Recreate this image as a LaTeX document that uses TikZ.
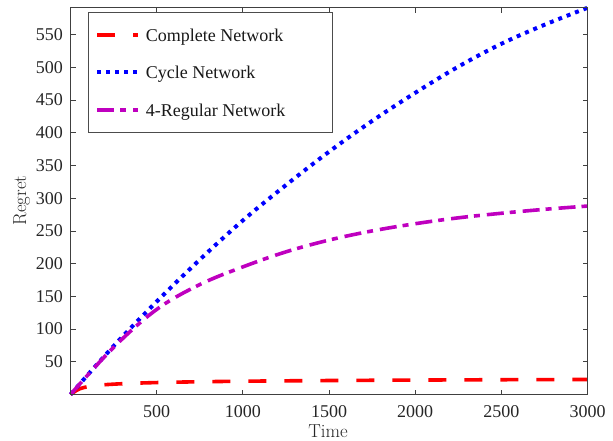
\documentclass[tikz,border=0pt]{standalone}
\usepackage{fontspec}
\newfontfamily\numfont{Liberation Serif}
\usetikzlibrary{positioning,calc}

\definecolor{regmag}{RGB}{191,0,191}

\begin{document}
\begin{tikzpicture}[
    x=1pt, y=1pt,
    axisline/.style={
        draw=black!75,
        line width=0.9pt
    },
    tickmark/.style={
        black!75,
        line width=0.8pt
    },
    ticklabel/.style={
        font=\numfont\fontsize{18}{20}\selectfont,
        text=black!85,
        inner sep=0pt
    },
    axislabel/.style={
        font=\fontsize{18.8}{22}\selectfont,
        text=black!85,
        inner sep=0pt
    },
    legtext/.style={
        font=\numfont\fontsize{18}{20}\selectfont,
        text=black!90,
        inner sep=0pt,
        anchor=base west
    },
    complete/.style={
        red,
        line width=3.6pt,
        dash pattern=on 18pt off 18pt
    },
    cyclenet/.style={
        blue,
        line width=4pt,
        dash pattern=on 4pt off 5pt
    },
    regular/.style={
        regmag,
        line width=3.6pt,
        dash pattern=on 17pt off 6pt on 6pt off 7pt
    }
]

\useasboundingbox (0,0) rectangle (613,440);

% Data area (Time 0..3000, Regret 0..591)
\begin{scope}[shift={(70.5pt,45.5pt)}, x=0.17233pt, y=0.6543pt]

% Curves
\draw[complete] plot[smooth, tension=0.6] coordinates {
    (0,0) (40,7) (80,10.8) (150,13.8) (250,15.8) (400,17.5) (600,18.8)
    (900,20) (1300,21) (1800,21.8) (2400,22.5) (3000,23)};
\draw[cyclenet] plot[smooth, tension=0.6] coordinates {
    (0,0) (250,74) (500,142) (750,206) (1000,266) (1250,320) (1500,371)
    (1750,418) (2000,461) (2250,501) (2500,536) (2750,565) (3000,591)};
\draw[regular] plot[smooth, tension=0.6] coordinates {
    (0,0) (250,72) (500,130) (750,168) (1000,195) (1250,218) (1500,236)
    (1750,250) (2000,261) (2250,270) (2500,277) (2750,283) (3000,288)};

% Axes box and ticks
\draw[axisline] (0,0) rectangle (3000,591);
\foreach \x in {500,1000,...,3000} {
    \draw[tickmark] (\x,0) -- ++(0,5pt);
    \draw[tickmark] (\x,591) -- ++(0,-5pt);
    \node[ticklabel, anchor=base, yshift=-22.5pt] (xt\x) at (\x,0) {\x};
}
\foreach \y in {50,100,...,550} {
    \draw[tickmark] (0,\y) -- ++(5pt,0);
    \draw[tickmark] (3000,\y) -- ++(-5pt,0);
    \node[ticklabel, anchor=east, xshift=-7.5pt] (yt\y) at (0,\y) {\y};
}
\end{scope}

% Axis labels
\node[axislabel, anchor=base] (xlab) at (328,3) {Time};
\node[axislabel, anchor=base, rotate=90] (ylab) at (26,239.5) {Regret};

% Legend
\draw[fill=white, draw=black!70, line width=0.8pt] (88.5,307.3) rectangle (332.3,427.7);
\draw[complete] (97.3,405) -- ++(41,0);
\node[legtext] (leg1) at (145.7,398.7) {Complete Network};
\draw[cyclenet] (97.3,367.7) -- ++(41,0);
\node[legtext] (leg2) at (145.7,361.4) {Cycle Network};
\draw[regular] (97.3,330) -- ++(41,0);
\node[legtext] (leg3) at (145.7,323.7) {4-Regular Network};

\end{tikzpicture}
\end{document}
